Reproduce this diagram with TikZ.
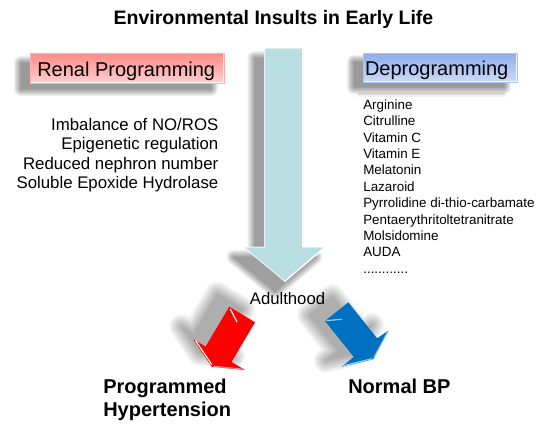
\documentclass[tikz,border=0pt]{standalone}
\usepackage{fontspec}
\setmainfont{Liberation Sans}
\definecolor{arrowteal}{RGB}{185,223,226}
\definecolor{arrowred}{RGB}{255,0,0}
\definecolor{arrowblue}{RGB}{0,112,192}
\definecolor{redtop}{RGB}{255,138,138}
\definecolor{redbot}{RGB}{255,208,208}
\definecolor{redline}{RGB}{255,175,175}
\definecolor{bluetop}{RGB}{142,172,236}
\definecolor{bluebot}{RGB}{205,219,249}
\definecolor{blueline}{RGB}{175,198,245}
\definecolor{bluehi}{RGB}{150,205,255}
\newcommand\softshadow[2]{%
  \foreach \w in {0.1,2,4,6,8,10,12,14}{%
    \begin{scope}[transparency group, opacity=#2]
      \filldraw[black, line width=\w pt, line join=round] #1;
    \end{scope}}%
}
\newcommand\wideshadow[2]{%
  \foreach \w in {0.1,3,6,9,12,15,18,21,24}{%
    \begin{scope}[transparency group, opacity=#2]
      \filldraw[black, line width=\w pt, line join=round] #1;
    \end{scope}}%
}
\def\bigarrowpath{(264.5,48) -- (303.5,48) -- (303.5,247) -- (325.5,247) -- (285,281.5) -- (243.5,247) -- (264.5,247) -- cycle}
\def\redpath{(229.3,306.7) -- (255,322.3) -- (231.5,362) -- (245,370) -- (211.7,366.7) -- (193.3,339.3) -- (205.6,346.6) -- cycle}
\def\bluepath{(348.3,302.3) -- (377.1,338.3) -- (388.3,330.7) -- (373.3,359.3) -- (341.7,366.7) -- (353.75,356.9) -- (325,321) -- cycle}
\def\renalpath{(30,53) rectangle (224,83)}
\def\deprogpath{(363,53) rectangle (517,82)}
\tikzset{
  txt/.style={inner sep=0pt, outer sep=0pt, text=black},
  titletxt/.style={txt, font=\fontsize{19.5}{23}\selectfont\bfseries},
  headtxt/.style={txt, font=\fontsize{20}{24}\selectfont},
  causetxt/.style={txt, font=\fontsize{16.8}{19.5}\selectfont, anchor=base east},
  drugtxt/.style={txt, font=\fontsize{13.4}{16.4}\selectfont, anchor=base west},
  outtxt/.style={txt, font=\fontsize{20}{22.7}\selectfont\bfseries, anchor=base west},
}
\begin{document}
\begin{tikzpicture}[x=1pt, y=-1pt]
\useasboundingbox (0,0) rectangle (550,424);
\fill[white] (0,0) rectangle (550,424);

% title
\node[titletxt, anchor=base] (title) at (273.5,24) {Environmental Insults in Early Life};

% box shadows
\begin{scope}[shift={(-11,8)}]
  \softshadow{(32,55) rectangle (222,81)}{0.06}
\end{scope}
\begin{scope}[shift={(-11,7)}]
  \softshadow{(365,55) rectangle (515,80)}{0.06}
\end{scope}

% big arrow shadow and body
\begin{scope}[shift={(-10,10)}]
  \softshadow{\bigarrowpath}{0.055}
\end{scope}
\fill[arrowteal] \bigarrowpath;
\draw[white, opacity=0.75, line width=1pt, line join=miter] \bigarrowpath;
\draw[white, line width=1.3pt] (302.7,48.5) -- (302.7,246.5);
\draw[white, line width=1.2pt] (324.5,247.5) -- (285,281);

% header boxes
\shade[top color=redtop, bottom color=redbot] \renalpath;
\draw[redline, line width=0.8pt] \renalpath;
\draw[white, opacity=0.8, line width=0.8pt] (31,82.2) -- (223,82.2) -- (223,54);
\node[headtxt, anchor=base west] (renal) at (37.3,76) {Renal Programming};

\shade[top color=bluetop, bottom color=bluebot] \deprogpath;
\draw[blueline, line width=0.8pt] \deprogpath;
\draw[white, opacity=0.8, line width=0.8pt] (364,81.2) -- (516,81.2) -- (516,54);
\node[headtxt, anchor=base west] (deprog) at (365,75.5) {Deprogramming};

% faint edge of the list panel
\draw[black, opacity=0.05, line width=5pt] (358,94) -- (505,94);
\draw[black, opacity=0.08, line width=2pt] (358,93.5) -- (505,93.5);

% renal programming causes
\node[causetxt] (c1) at (218.3,130) {Imbalance of NO/ROS};
\node[causetxt] (c2) at (218.3,149.5) {Epigenetic regulation};
\node[causetxt] (c3) at (218.3,169) {Reduced nephron number};
\node[causetxt] (c4) at (218.3,188.5) {Soluble Epoxide Hydrolase};

% deprogramming agents
\foreach \t [count=\i] in {Arginine, Citrulline, Vitamin C, Vitamin E, Melatonin, Lazaroid,
  Pyrrolidine di-thio-carbamate, Pentaerythritoltetranitrate, Molsidomine, AUDA}{
  \node[drugtxt] (d\i) at (363.3,{109.3+16.4*(\i-1)}) {\t};
}
\node[drugtxt] (d11) at (363.3,273.3) {............};

% small arrow shadows
\begin{scope}[shift={(-12,-13)}]
  \wideshadow{\redpath}{0.04}
\end{scope}
\begin{scope}[shift={(-16,-6)}]
  \wideshadow{\bluepath}{0.04}
\end{scope}

% adulthood
\node[txt, anchor=base, font=\fontsize{16.7}{20}\selectfont] (adult) at (287.5,304) {Adulthood};

% small arrows
\fill[arrowred] \redpath;
\draw[white, line width=1.2pt] (230.2,308.8) -- (237,322);
\draw[white, line width=1.1pt] (195.6,340.6) -- (211.8,364.6);
\draw[white!55!arrowred, line width=1pt] (213.5,366.2) -- (243.5,369.2);

\fill[arrowblue] \bluepath;
\draw[bluehi, line width=1.2pt] (326.5,320.6) -- (341.7,319.3);
\draw[bluehi, line width=1.1pt] (343.5,365.6) -- (372.5,358.6);
\draw[bluehi, opacity=0.8, line width=1pt] (387.4,332.3) -- (373.8,357.5);

% outcomes
\node[outtxt] (prog) at (103.3,393.3) {Programmed};
\node[outtxt] (hyper) at (103.3,416) {Hypertension};
\node[outtxt] (normal) at (348.3,393.3) {Normal BP};
\end{tikzpicture}
\end{document}
